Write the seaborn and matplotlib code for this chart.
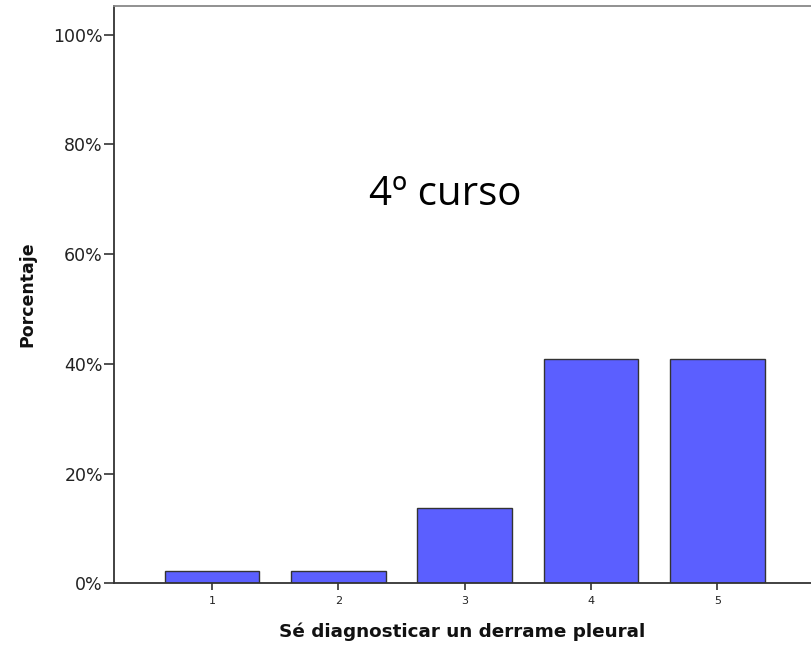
import pandas as pd
import numpy as np
import matplotlib
matplotlib.use('Agg')
import matplotlib.pyplot as plt
import seaborn as sns
from matplotlib.ticker import PercentFormatter

# datos (n = 44)
categorias = ['1', '2', '3', '4', '5']
porcentajes = [2.27, 2.27, 13.64, 40.91, 40.91]

df = pd.DataFrame({'respuesta': categorias, 'pct': porcentajes})

sns.set_style('white')
plt.rcParams['font.family'] = ['DejaVu Sans']
plt.rcParams['text.color'] = '#111111'
plt.rcParams['axes.labelcolor'] = '#111111'
plt.rcParams['xtick.labelcolor'] = '#222222'
plt.rcParams['ytick.labelcolor'] = '#222222'

fig = plt.figure(figsize=(8.11, 6.48), dpi=100)
ax = fig.add_axes([114 / 811, (648 - 583.3) / 648, 1 - 114 / 811, (583.3 - 6) / 648])

sns.barplot(data=df, x='respuesta', y='pct', color='#5b5fff', saturation=1,
            width=0.75, edgecolor='#333333', linewidth=1.0, ax=ax)

ax.set_xlim(-0.775, 4.74)
ax.set_ylim(0, 105.2)
ax.set_yticks([0, 20, 40, 60, 80, 100])
ax.yaxis.set_major_formatter(PercentFormatter(decimals=0))

ax.tick_params(axis='y', direction='out', length=7, width=1.2, color='#333333',
               labelsize=12.5, pad=1, left=True)
ax.tick_params(axis='x', direction='out', length=5, width=1.2, color='#333333',
               labelsize=8, pad=4, bottom=True)

for s in ['left', 'bottom']:
    ax.spines[s].set_color('#333333')
    ax.spines[s].set_linewidth(1.3)
ax.spines['top'].set_color('#888888')
ax.spines['top'].set_linewidth(1.3)
ax.spines['right'].set_visible(False)

ax.set_xlabel('Sé diagnosticar un derrame pleural', fontsize=13.2, fontweight='bold', labelpad=12)
ax.set_ylabel('Porcentaje', fontsize=12.5, fontweight='bold', labelpad=12)

ax.text(0.475, 0.655, '4º curso', transform=ax.transAxes, ha='center', va='baseline',
        fontsize=29, color='black', family=['Open Sans', 'DejaVu Sans'])

fig.savefig('out.png', dpi=100)
